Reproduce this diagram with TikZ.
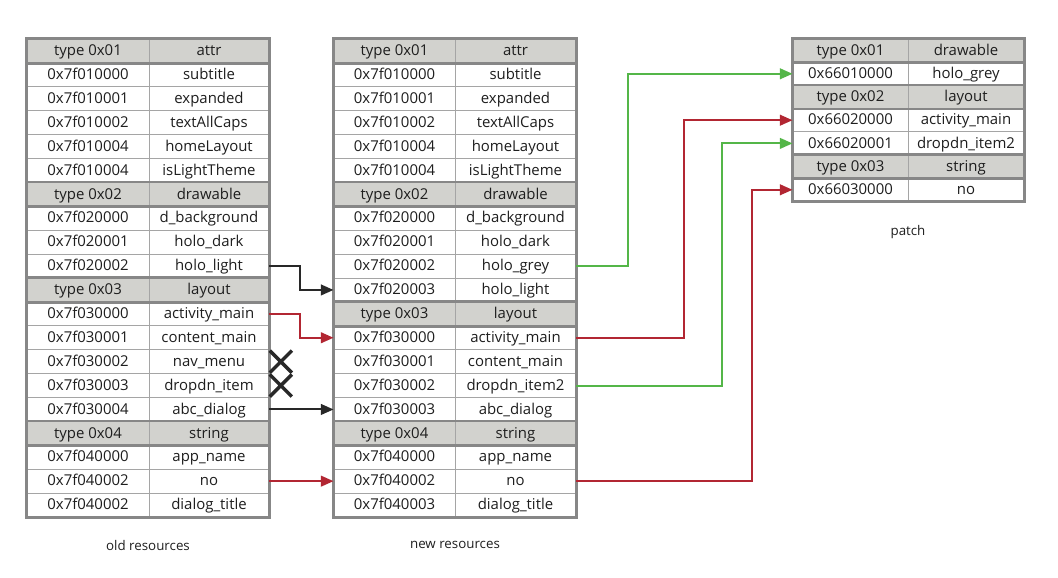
\documentclass[tikz,border=0pt]{standalone}
\usepackage{fontspec}
\setmainfont{Open Sans}
\usetikzlibrary{arrows.meta,shapes.misc}
\definecolor{hdr}{RGB}{210,210,206}
\definecolor{framec}{RGB}{135,135,135}
\definecolor{gridc}{RGB}{165,165,165}
\definecolor{agreen}{RGB}{84,182,72}
\definecolor{ared}{RGB}{178,38,50}
\definecolor{ablack}{RGB}{40,40,40}
\definecolor{txt}{RGB}{30,30,30}
\tikzset{
  cell/.style={draw=gridc, line width=0.7pt, inner sep=0pt, text=txt,
    text height=7.6pt, text depth=0.6pt,
    font=\fontsize{11.2}{13}\selectfont},
  hdrline/.style={draw=framec, line width=2pt},
  frameline/.style={draw=framec, line width=2.2pt},
  link/.style={line width=1.5pt, -{Triangle[length=9.5pt,width=8pt]}},
  xmark/.style={cross out, draw=ablack, line width=2.6pt, minimum size=14pt, inner sep=0pt},
  caption/.style={text=txt, font=\fontsize{10}{12}\selectfont}
}
\newcommand\mktable[7]{%
  \foreach \k/\a/\b [count=\i] in {#7} {
    \node[cell, fill=\k, minimum width={(#3-#2)*0.75pt}, minimum height={#6*0.75pt}]
      (#1L\i) at ({(#2+#3)/2}, {#5+(\i-0.5)*#6}) {\a};
    \node[cell, fill=\k, minimum width={(#4-#3)*0.75pt}, minimum height={#6*0.75pt}]
      (#1R\i) at ({(#3+#4)/2}, {#5+(\i-0.5)*#6}) {\b};
  }}
\begin{document}
\begin{tikzpicture}[x=0.75pt, y=-0.75pt]
\useasboundingbox (0,0) rectangle (1058,578);
% old resources
\mktable{o}{27}{149}{269}{39}{23.9}{
  hdr/type 0x01/attr,
  white/0x7f010000/subtitle,
  white/0x7f010001/expanded,
  white/0x7f010002/textAllCaps,
  white/0x7f010004/homeLayout,
  white/0x7f010004/isLightTheme,
  hdr/type 0x02/drawable,
  white/0x7f020000/d\_background,
  white/0x7f020001/holo\_dark,
  white/0x7f020002/holo\_light,
  hdr/type 0x03/layout,
  white/0x7f030000/activity\_main,
  white/0x7f030001/content\_main,
  white/0x7f030002/nav\_menu,
  white/0x7f030003/dropdn\_item,
  white/0x7f030004/abc\_dialog,
  hdr/type 0x04/string,
  white/0x7f040000/app\_name,
  white/0x7f040002/no,
  white/0x7f040002/dialog\_title}
\foreach \i in {1,7,11,17} \draw[hdrline] (oL\i.north west) rectangle (oR\i.south east);
\draw[frameline] (oL1.north west) rectangle (oR20.south east);
% new resources
\mktable{n}{334}{455}{576}{39}{23.9}{
  hdr/type 0x01/attr,
  white/0x7f010000/subtitle,
  white/0x7f010001/expanded,
  white/0x7f010002/textAllCaps,
  white/0x7f010004/homeLayout,
  white/0x7f010004/isLightTheme,
  hdr/type 0x02/drawable,
  white/0x7f020000/d\_background,
  white/0x7f020001/holo\_dark,
  white/0x7f020002/holo\_grey,
  white/0x7f020003/holo\_light,
  hdr/type 0x03/layout,
  white/0x7f030000/activity\_main,
  white/0x7f030001/content\_main,
  white/0x7f030002/dropdn\_item2,
  white/0x7f030003/abc\_dialog,
  hdr/type 0x04/string,
  white/0x7f040000/app\_name,
  white/0x7f040002/no,
  white/0x7f040003/dialog\_title}
\foreach \i in {1,7,12,17} \draw[hdrline] (nL\i.north west) rectangle (nR\i.south east);
\draw[frameline] (nL1.north west) rectangle (nR20.south east);
% patch
\mktable{p}{793}{908}{1024}{39}{23.2}{
  hdr/type 0x01/drawable,
  white/0x66010000/holo\_grey,
  hdr/type 0x02/layout,
  white/0x66020000/activity\_main,
  white/0x66020001/dropdn\_item2,
  hdr/type 0x03/string,
  white/0x66030000/no}
\foreach \i in {1,3,6} \draw[hdrline] (pL\i.north west) rectangle (pR\i.south east);
\draw[frameline] (pL1.north west) rectangle (pR7.south east);
% captions
\node[caption] (capo) at (148,545) {old resources};
\node[caption] (capn) at (455,545) {new resources};
\node[caption] (capp) at (908,232) {patch};
% removed entries
\node[xmark] (x1) at ([xshift=8.5pt]oR14.east) {};
\node[xmark] (x2) at ([xshift=8.5pt]oR15.east) {};
% old -> new
\draw[link, ablack] (oR10.east) -- ++(31,0) |- (nL11.west);
\draw[link, ared] (oR12.east) -- ++(31,0) |- (nL13.west);
\draw[link, ablack] (oR16.east) -- (nL16.west);
\draw[link, ared] (oR19.east) -- (nL19.west);
% new -> patch
\draw[link, agreen] (nR10.east) -- ++(52,0) |- (pL2.west);
\draw[link, ared] (nR13.east) -- ++(108,0) |- (pL4.west);
\draw[link, agreen] (nR15.east) -- ++(146,0) |- (pL5.west);
\draw[link, ared] (nR19.east) -- ++(176,0) |- (pL7.west);
\end{tikzpicture}
\end{document}
